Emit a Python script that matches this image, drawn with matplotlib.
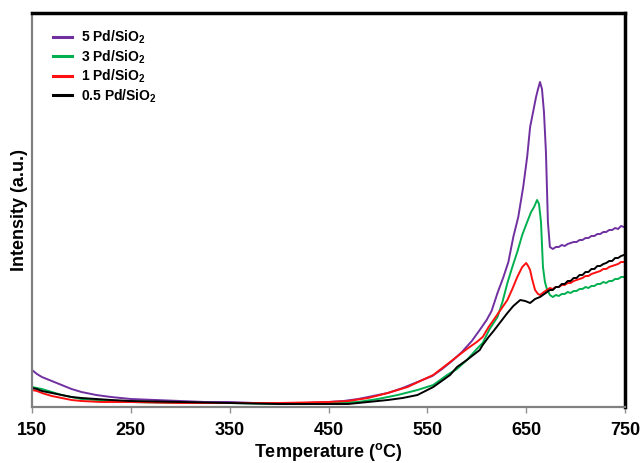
import matplotlib
matplotlib.use("Agg")
import matplotlib.pyplot as plt

# temperature (C) / intensity (a.u.)
t_5 = [150, 155, 160, 170, 180, 190, 200, 215, 230, 250, 275, 300, 325, 350, 375, 400,
       425, 450, 465, 480, 495, 510, 525, 540, 555, 565, 575, 585, 595, 603, 610, 615,
       621, 627, 632, 637, 642, 647, 651, 654, 657, 660, 662, 664, 666, 668, 670, 672,
       674, 677, 680, 683, 686, 689, 692, 695, 698, 701, 704, 707, 710, 713, 716, 719,
       722, 725, 728, 731, 734, 737, 740, 743, 746, 749]
i_5 = [37, 33, 30, 26, 22, 18, 15, 12, 10, 8, 7, 6, 5, 5, 4, 4,
       4, 5, 6, 8, 11, 14, 19, 25, 31, 38, 46, 55, 66, 77, 87, 96,
       114, 130, 145, 170, 190, 220, 250, 280, 295, 310, 318, 325, 318, 295, 255, 185,
       160, 158, 160, 160, 162, 161, 163, 164, 165, 165, 167, 167, 169, 169, 171, 171,
       173, 173, 175, 175, 177, 177, 179, 178, 181, 180]

t_3 = [150, 155, 160, 170, 180, 190, 200, 215, 230, 250, 300, 350, 400, 450, 480, 500,
       520, 540, 556, 570, 580, 590, 600, 606, 613, 621, 626, 631, 636, 641, 646, 651,
       655, 658, 661, 663, 665, 667, 669, 671, 674, 677, 680, 683, 686, 689, 692, 695,
       698, 701, 704, 707, 710, 713, 716, 719, 722, 725, 728, 731, 734, 737, 740, 743,
       746, 749]
i_3 = [20, 19, 18, 15, 12, 10, 8, 7, 6, 5, 4, 4, 3, 4, 5, 8,
       12, 17, 22, 32, 38, 47, 58, 64, 78, 90, 105, 124, 140, 155, 172, 185,
       195, 200, 207, 203, 185, 140, 125, 118, 112, 110, 112, 111, 113, 113, 115, 114,
       116, 116, 118, 118, 120, 119, 121, 121, 123, 123, 125, 124, 126, 126, 128, 128,
       130, 130]

t_1 = [150, 155, 160, 170, 180, 190, 200, 220, 250, 300, 350, 400, 450, 470, 490, 510,
       530, 545, 556, 573, 590, 600, 606, 612, 617, 624, 631, 636, 641, 646, 650, 652,
       654, 656, 659, 662, 664, 668, 674, 677, 680, 683, 686, 689, 692, 695, 698, 701,
       704, 707, 710, 713, 716, 719, 722, 725, 728, 731, 734, 737, 740, 743, 746, 749]
i_1 = [17, 16, 14, 11, 9, 7, 6, 5, 5, 4, 4, 4, 5, 6, 9, 14,
       20, 27, 32, 45, 58, 65, 70, 80, 87, 97, 107, 118, 130, 140, 144, 141,
       137, 128, 117, 113, 112, 115, 119, 118, 120, 120, 122, 122, 124, 124, 126, 127,
       128, 129, 131, 131, 133, 134, 135, 136, 138, 138, 140, 141, 142, 143, 145, 145]

t_05 = [150, 155, 160, 170, 180, 190, 200, 215, 230, 250, 300, 350, 400, 450, 470, 490,
        510, 525, 540, 556, 573, 580, 590, 603, 606, 612, 617, 624, 631, 637, 644, 649,
        654, 659, 664, 674, 677, 680, 683, 686, 689, 692, 695, 698, 701, 704, 707, 710,
        713, 716, 719, 722, 725, 728, 731, 734, 737, 740, 743, 746, 749]
i_05 = [19, 18, 16, 14, 12, 10, 9, 8, 7, 6, 5, 4, 3, 3, 3, 5,
        7, 9, 12, 20, 32, 40, 47, 57, 62, 70, 76, 85, 94, 101, 107, 106,
        104, 108, 110, 117, 117, 120, 120, 123, 123, 126, 126, 129, 129, 132, 132, 135,
        135, 138, 138, 141, 141, 143, 144, 146, 146, 149, 149, 151, 152]

labels = ["5 Pd/SiO$_\\mathbf{2}$", "3 Pd/SiO$_\\mathbf{2}$",
          "1 Pd/SiO$_\\mathbf{2}$", "0.5 Pd/SiO$_\\mathbf{2}$"]
colors = ["#7030A0", "#00B050", "#FF1010", "#000000"]
x_ticks = [150, 250, 350, 450, 550, 650, 750]

plt.rcParams["font.family"] = ["Liberation Sans", "DejaVu Sans"]
plt.rcParams["font.weight"] = "bold"
plt.rcParams["mathtext.fontset"] = "custom"
plt.rcParams["mathtext.rm"] = "Liberation Sans:bold"
plt.rcParams["mathtext.bf"] = "Liberation Sans:bold"

fig = plt.figure(figsize=(6.41, 4.63), dpi=100)
ax = fig.add_axes([32 / 641, 56 / 463, 593 / 641, 394 / 463])

series = [(t_5, i_5), (t_3, i_3), (t_1, i_1), (t_05, i_05)]
for (t, i), lab, c in zip(series, labels, colors):
    ax.plot(t, i, color=c, lw=1.4, label=lab)

ax.set_xlim(150, 750)
ax.set_ylim(0, 394)
ax.set_xticks(x_ticks)
ax.set_yticks([])
ax.tick_params(axis="x", direction="out", length=4, width=1, color="#909090",
               labelsize=13, pad=7)
for lbl in ax.get_xticklabels():
    lbl.set_fontweight("bold")

for side in ["top", "right"]:
    ax.spines[side].set_linewidth(2.5)
    ax.spines[side].set_color("black")
for side in ["left", "bottom"]:
    ax.spines[side].set_linewidth(1.6)
    ax.spines[side].set_color("#808080")

ax.set_xlabel("Temperature ($^\\mathbf{o}$C)", fontsize=13, fontweight="bold", labelpad=1)
ax.set_ylabel("Intensity (a.u.)", fontsize=13, fontweight="bold", labelpad=3)

leg = ax.legend(loc="upper left", bbox_to_anchor=(0.012, 0.995), frameon=False,
                fontsize=10, handlelength=1.4, handletextpad=0.6,
                labelspacing=0.15, borderaxespad=0.6)
for txt in leg.get_texts():
    txt.set_fontweight("bold")
for line in leg.get_lines():
    line.set_linewidth(2.2)

fig.savefig("out.png", dpi=100)
